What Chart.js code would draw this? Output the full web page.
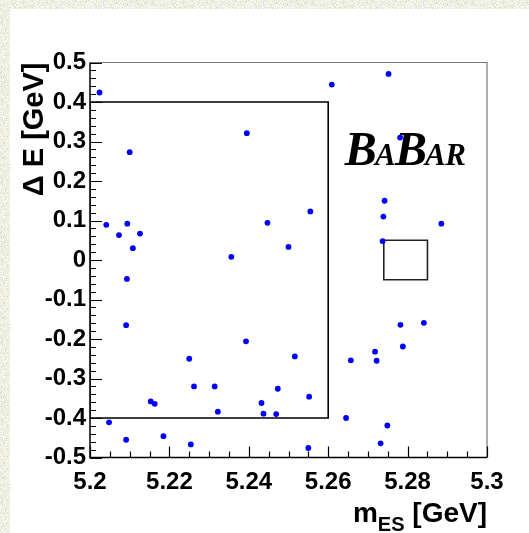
<!DOCTYPE html>
<html>
<head>
<meta charset="utf-8">
<script src="https://cdn.jsdelivr.net/npm/chart.js@4/dist/chart.umd.min.js"></script>
<style>
  html, body { margin: 0; padding: 0; }
  body {
    width: 529px; height: 533px; overflow: hidden; position: relative;
    background-color: #e0dec4;
    background-image: url("data:image/svg+xml;utf8,<svg xmlns='http://www.w3.org/2000/svg' width='160' height='160'><filter id='n'><feTurbulence type='fractalNoise' baseFrequency='1.1' numOctaves='2' stitchTiles='stitch'/><feColorMatrix values='0.9 0 0 0 0.42  0.75 0.15 0 0 0.42  0 0.9 0 0 0.32  0 0 0 0 1'/></filter><rect width='160' height='160' filter='url(%23n)'/></svg>");
  }
  #plot { position: absolute; left: 10px; top: 9px; background: #ffffff; }
</style>
</head>
<body>
<canvas id="plot" width="519" height="524"></canvas>
<script>
// Candidate events: beam-energy-substituted mass and energy difference
const mES = [
  5.2024, 5.2609, 5.2752,
  5.2395, 5.2100, 5.2041, 5.2073, 5.2094, 5.2126, 5.2108, 5.2447, 5.2500, 5.2555,
  5.2093, 5.2091, 5.2356, 5.2393, 5.2250, 5.2516, 5.2262, 5.2314, 5.2473, 5.2552,
  5.2153, 5.2163, 5.2432, 5.2322, 5.2437, 5.2469, 5.2048, 5.2091, 5.2185, 5.2254, 5.2550,
  5.2781, 5.2742, 5.2739, 5.2885, 5.2737,
  5.2782, 5.2841, 5.2788, 5.2718, 5.2657, 5.2722, 5.2645, 5.2749, 5.2732
];
const deltaE = [
  0.424, 0.444, 0.471,
  0.321, 0.273, 0.089, 0.063, 0.092, 0.067, 0.030, 0.094, 0.033, 0.123,
  -0.048, -0.165, 0.008, -0.206, -0.250, -0.244, -0.320, -0.320, -0.326, -0.346,
  -0.358, -0.364, -0.362, -0.384, -0.389, -0.390, -0.411, -0.455, -0.446, -0.467, -0.476,
  0.310, 0.150, 0.110, 0.092, 0.048,
  -0.164, -0.159, -0.219, -0.232, -0.254, -0.255, -0.400, -0.419, -0.464
];

// Sideband region and signal region outlines
const sidebandX = [5.2, 5.26, 5.26, 5.2, 5.2];
const sidebandY = [0.4, 0.4, -0.4, -0.4, 0.4];
const signalX = [5.274, 5.285, 5.285, 5.274, 5.274];
const signalY = [0.05, 0.05, -0.05, -0.05, 0.05];

// Axis tick labels
const xTickValues = [5.2, 5.22, 5.24, 5.26, 5.28, 5.3];
const xTickLabels = ['5.2', '5.22', '5.24', '5.26', '5.28', '5.3'];
const yTickValues = [-0.5, -0.4, -0.3, -0.2, -0.1, 0, 0.1, 0.2, 0.3, 0.4, 0.5];
const yTickLabels = ['-0.5', '-0.4', '-0.3', '-0.2', '-0.1', '0', '0.1', '0.2', '0.3', '0.4', '0.5'];

const FONT = '"Liberation Sans", Arial, Helvetica, sans-serif';

const toXY = (xs, ys) => xs.map((x, i) => ({ x: x, y: ys[i] }));

const framePlugin = {
  id: 'frame',
  afterDatasetsDraw(chart) {
    const { ctx, chartArea: a, scales: { x, y } } = chart;
    ctx.save();
    // top and right frame edges
    ctx.strokeStyle = '#777777';
    ctx.lineWidth = 1.2;
    ctx.beginPath();
    ctx.moveTo(a.left, a.top); ctx.lineTo(a.right, a.top); ctx.lineTo(a.right, a.bottom);
    ctx.stroke();
    // axis lines
    ctx.strokeStyle = '#000000';
    ctx.lineWidth = 1.5;
    ctx.beginPath();
    ctx.moveTo(a.left, a.top); ctx.lineTo(a.left, a.bottom); ctx.lineTo(a.right, a.bottom);
    ctx.stroke();
    // x ticks: primary every 0.02, secondary every 0.005
    ctx.lineWidth = 1.2;
    ctx.beginPath();
    for (let i = 0; i <= 20; i++) {
      const px = Math.round(x.getPixelForValue(5.2 + i * 0.005)) + 0.5;
      const len = i % 4 === 0 ? 11 : 6;
      ctx.moveTo(px, a.bottom); ctx.lineTo(px, a.bottom - len);
    }
    // y ticks: primary every 0.1, secondary every 0.02
    for (let j = 0; j <= 50; j++) {
      const py = Math.round(y.getPixelForValue(-0.5 + j * 0.02)) + 0.5;
      const len = j % 5 === 0 ? 12 : 6;
      ctx.moveTo(a.left, py); ctx.lineTo(a.left + len, py);
    }
    ctx.stroke();

    // experiment logo
    ctx.fillStyle = '#000000';
    ctx.textBaseline = 'alphabetic';
    ctx.textAlign = 'left';
    const parts = [['B', 48], ['A', 31], ['B', 48], ['A', 31], ['R', 31]];
    let lx = a.left + 0.642 * (a.right - a.left);
    const base = a.top + 0.26 * (a.bottom - a.top);
    for (const [ch, size] of parts) {
      ctx.font = 'italic bold ' + size + 'px "Liberation Serif", "Times New Roman", serif';
      ctx.fillText(ch, lx, base);
      lx += ctx.measureText(ch).width - (size > 40 ? 2 : 0.5);
    }
    ctx.restore();
  },
  afterDraw(chart) {
    const { ctx, chartArea: a } = chart;
    ctx.save();
    ctx.fillStyle = '#000000';
    // x-axis title, right-aligned to the end of the axis
    const tail = '[GeV]';
    const big = 'bold 28px ' + FONT;
    const small = 'bold 20px ' + FONT;
    ctx.font = big;
    const wTail = ctx.measureText(tail).width;
    const wM = ctx.measureText('m').width;
    const wSp = ctx.measureText(' ').width;
    ctx.font = small;
    const wSub = ctx.measureText('ES').width;
    const base = 513;
    let tx = a.right - wTail - wSp - wSub - wM;
    ctx.textBaseline = 'alphabetic';
    ctx.textAlign = 'left';
    ctx.font = big;
    ctx.fillText('m', tx, base);
    tx += wM;
    ctx.font = small;
    ctx.fillText('ES', tx, base + 9);
    tx += wSub;
    ctx.font = big;
    ctx.fillText(' ' + tail, tx, base);

    // y-axis title, rotated, ending at the top of the axis
    ctx.translate(12, a.top);
    ctx.rotate(-Math.PI / 2);
    ctx.textAlign = 'right';
    ctx.textBaseline = 'alphabetic';
    ctx.font = 'bold 29px ' + FONT;
    ctx.fillText('\u0394 E [GeV]', 0, 21);
    ctx.restore();
  }
};

new Chart(document.getElementById('plot'), {
  type: 'scatter',
  data: {
    datasets: [
      {
        label: 'events',
        data: toXY(mES, deltaE),
        pointRadius: 2.9,
        pointHoverRadius: 2.9,
        pointBackgroundColor: '#0000ff',
        pointBorderWidth: 0,
        showLine: false
      },
      {
        label: 'sideband',
        data: toXY(sidebandX, sidebandY),
        showLine: true,
        borderColor: '#000000',
        borderWidth: 1.6,
        pointRadius: 0,
        fill: false
      },
      {
        label: 'signal',
        data: toXY(signalX, signalY),
        showLine: true,
        borderColor: '#222222',
        borderWidth: 1.6,
        pointRadius: 0,
        fill: false
      }
    ]
  },
  options: {
    responsive: false,
    animation: false,
    devicePixelRatio: 1,
    layout: { padding: { top: 53.5, right: 42, left: 0, bottom: 0 } },
    plugins: { legend: { display: false }, tooltip: { enabled: false } },
    scales: {
      x: {
        type: 'linear', min: 5.2, max: 5.3,
        afterFit(s) { s.height = 75.5; },
        afterBuildTicks(s) { s.ticks = xTickValues.map(v => ({ value: v })); },
        grid: { display: false, drawTicks: false },
        border: { display: false },
        ticks: {
          autoSkip: false, maxRotation: 0, padding: 10,
          color: '#000000',
          font: { family: FONT, size: 24, weight: 'bold' },
          callback: (v, i) => xTickLabels[i]
        }
      },
      y: {
        type: 'linear', min: -0.5, max: 0.5,
        afterFit(s) { s.width = 80; },
        afterBuildTicks(s) { s.ticks = yTickValues.map(v => ({ value: v })); },
        grid: { display: false, drawTicks: false },
        border: { display: false },
        ticks: {
          autoSkip: false, padding: 4,
          color: '#000000',
          font: { family: FONT, size: 24, weight: 'bold' },
          callback: (v, i) => yTickLabels[i]
        }
      }
    }
  },
  plugins: [framePlugin]
});
</script>
</body>
</html>
